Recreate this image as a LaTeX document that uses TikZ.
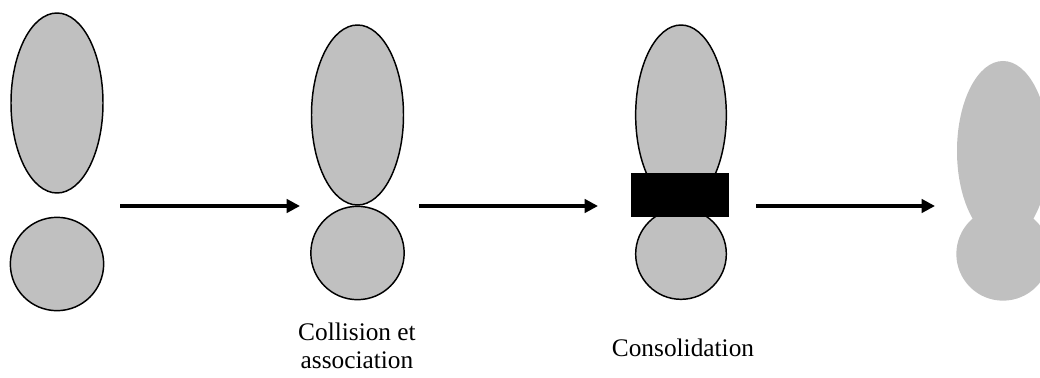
\documentclass[tikz,border=0pt]{standalone}
\usepackage{fontspec}
\setmainfont{Liberation Serif}
\usetikzlibrary{shapes.geometric,arrows.meta}
\definecolor{blobgray}{RGB}{192,192,192}
\begin{document}
\begin{tikzpicture}[x=0.75pt,y=-0.75pt,
  blob/.style={ellipse,fill=blobgray,draw=black,line width=1.1pt,inner sep=0pt},
  softblob/.style={ellipse,fill=blobgray,inner sep=0pt},
  longblob/.style={minimum width=69pt,minimum height=135pt},
  roundblob/.style={minimum width=70pt,minimum height=70pt},
  bigarrow/.style={line width=3pt,-{Triangle[length=10pt,width=10pt]}},
  lbl/.style={font=\fontsize{19}{21}\selectfont,align=center}]
\useasboundingbox (0,0) rectangle (1040,378);
% stage 1
\node[blob,longblob] (e1) at (57,103) {};
\node[blob,roundblob] (c1) at (57,264) {};
% stage 2
\node[blob,longblob] (e2) at (357.5,115) {};
\node[blob,roundblob] (c2) at (357.5,253) {};
\node[lbl] (t2) at (357,346) {Collision et\\association};
% stage 3
\node[blob,longblob,minimum width=68pt] (e3) at (681,115) {};
\node[blob,roundblob,minimum width=68pt,minimum height=68pt] (c3) at (681,254) {};
\node[fill=black,minimum width=73.5pt,minimum height=33pt,inner sep=0pt] (r3) at (680,195) {};
\node[lbl] (t3) at (683,348) {Consolidation};
% stage 4
\node[softblob,longblob] (e4) at (1003,151) {};
\node[softblob,roundblob] (c4) at (1003,254) {};
% arrows
\coordinate (a1s) at (120,206); \coordinate (a1e) at (300,206);
\coordinate (a2s) at (419,206); \coordinate (a2e) at (598,206);
\coordinate (a3s) at (756,206); \coordinate (a3e) at (935,206);
\draw[bigarrow] (a1s) -- (a1e);
\draw[bigarrow] (a2s) -- (a2e);
\draw[bigarrow] (a3s) -- (a3e);
\end{tikzpicture}
\end{document}
